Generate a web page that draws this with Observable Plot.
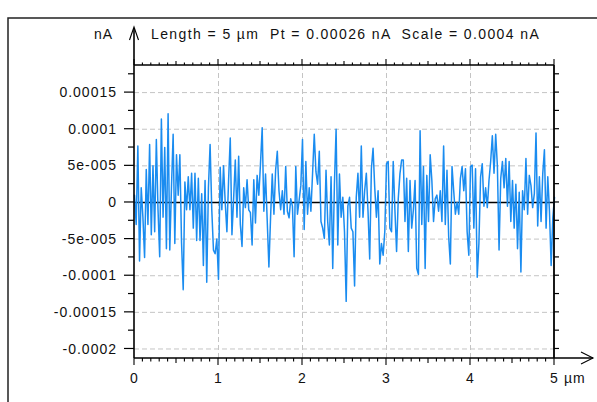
<!DOCTYPE html>
<html><head><meta charset="utf-8">
<script src="https://cdn.jsdelivr.net/npm/d3@7"></script>
<script src="https://cdn.jsdelivr.net/npm/@observablehq/plot@0.6"></script>
<style>
html,body{margin:0;padding:0;background:#fff;}
svg text{font-family:"Liberation Sans",Arial,sans-serif;}
</style></head><body><div id="chart"></div>
<script>
// Current signal (units of 1e-5 nA), sampled every 0.02 µm from 0 to 5 µm
const signal_1e5 = [
 1,-3,7.7,-8,2,-2,-7.5,4.5,-3,7.9,-4.4,5,-4,8.6,-1,-7.4,11.4,-2,7.5,-6.3,
 12.1,-6.5,2,9.3,-5.6,6.5,1,6.5,-5.5,-11.9,2.8,-1,3.5,-1,4,-3.5,4,-5.2,3.3,-5.2,
 1.2,-8.6,3,-10.9,2,7.9,-1,-6.5,-7,-5,-10.5,4.8,-1,5,0,-4,3,8.8,-4.4,0.5,
 5.8,-2,6.3,-3,-6,2,-0.7,3.1,-1,-1.4,-5.8,3.1,-2.8,3.7,1,5.3,10.2,-1.2,3.9,-2.5,
 -8.8,-2,3.9,-1.6,4.4,7,1.6,-1,1.6,-1.6,4.9,-1.2,-2.1,0.5,-0.5,-7.4,4.9,-1.6,0.3,2.3,
 8.6,-3.7,5.6,-1.6,2,-1.2,4,9.3,4.2,2.5,7,-2.6,-3.5,-4.9,4.4,-2.6,-5.8,3.5,-9,2.5,
 10,-5.8,3.9,-2,0.7,-4,-13.5,-0.5,0.7,-3.5,-4,-11.4,0.7,4,-2,7.7,-2,1.6,4,-1.2,
 -7.7,4.6,7.4,2,-2,1.6,-8.4,-5.6,-7.2,-3.9,5.3,5.6,-3.5,-4,5.6,-1,-6.7,0.5,3.9,5.8,
 5.8,-2.6,3.3,-6.7,3,-3.5,-1,3,-9,-9.8,9.8,-3,4.9,-9,3.7,-2.6,6.5,3,-2.6,0.5,
 1,-1.2,1.6,-2.6,7.7,-3,4.4,-4.6,-8.4,4.9,1.6,-1.6,0,-1.6,3.3,4.9,1.6,4.6,-4,-7.2,
 4.9,5.1,-3.5,4.6,-10.2,-5.6,3.5,5.3,-0.5,2,-0.7,3,5.6,9.1,4,9.3,5,-6.5,3.3,5.6,
 2,6,-0.5,5.6,-2.6,3,-3.5,2.5,-6.3,1.4,-9.5,1.6,-1,6,-1.6,3.7,2.3,-0.7,1.2,9.5,
 -3.2,3.5,-2.6,3.9,7.2,-3.5,3.5,-1.2,-8.6,-2.1,0.7
];
const sampleStep = 0.02; // µm
const yTickValues = [0.00015, 0.0001, 0.00005, 0, -0.00005, -0.0001, -0.00015, -0.0002];
const yTickLabels = ["0.00015", "0.0001", "5e-005", "0", "-5e-005", "-0.0001", "-0.00015", "-0.0002"];
const yGridValues = [0.00015, 0.0001, 0.00005, -0.00005, -0.0001, -0.00015, -0.0002];
const yMinorTicks = d3.range(-8, 8).map(k => k * 0.000025);
const xTickValues = [0, 1, 2, 3, 4, 5];
const xTickLabels = ["0", "1", "2", "3", "4", "5"];
const xGridValues = [1, 2, 3, 4];
const xMinorTicks = d3.range(0, 51).map(k => k / 10);
const xUnit = "µm";
const yUnit = "nA";
const titleText = "Length = 5 µm  Pt = 0.00026 nA  Scale = 0.0004 nA";

const data = signal_1e5.map((v, i) => ({x: i * sampleStep, y: v * 1e-5}));

const plot = Plot.plot({
  width: 597,
  height: 402,
  marginLeft: 134,
  marginRight: 43,
  marginTop: 65,
  marginBottom: 44,
  x: {domain: [0, 5], axis: null},
  y: {domain: [-0.000213, 0.000187], axis: null},
  style: {background: "white", overflow: "visible"},
  marks: [
    Plot.ruleY(yGridValues, {stroke: "#c4c4c4", strokeWidth: 1, strokeDasharray: "5,3"}),
    Plot.ruleX(xGridValues, {stroke: "#c4c4c4", strokeWidth: 1, strokeDasharray: "5,3"}),
    Plot.ruleY([0], {stroke: "#000", strokeWidth: 1.4}),
    Plot.line(data, {x: "x", y: "y", stroke: "#1a8cf0", strokeWidth: 1.5})
  ]
});
document.getElementById("chart").appendChild(plot);

const sx = plot.scale("x"), sy = plot.scale("y");
const X = v => sx.apply(v), Y = v => sy.apply(v);
const svg = d3.select(plot);
const g = svg.append("g").attr("stroke", "#000").attr("fill", "none");
const x0 = X(0), x5 = X(5), yTop = Y(0.000187), yBot = Y(-0.000213);

// outer frame (left and top edges)
g.append("path").attr("d", `M8,402V18H600`).attr("stroke", "#222").attr("stroke-width", 1.5);

// axes box
g.append("line").attr("x1", x0).attr("x2", x0).attr("y1", yBot).attr("y2", 28).attr("stroke-width", 1.6);
g.append("line").attr("x1", x0).attr("x2", 593).attr("y1", yBot).attr("y2", yBot).attr("stroke-width", 1.6);
g.append("line").attr("x1", x0).attr("x2", x5).attr("y1", yTop).attr("y2", yTop).attr("stroke-width", 1.4);
g.append("line").attr("x1", x5).attr("x2", x5).attr("y1", yTop).attr("y2", yBot).attr("stroke-width", 1.8);
// arrowheads
g.append("path").attr("d", `M${x0-4.5},40L${x0},27L${x0+4.5},40`).attr("stroke-width", 1.1);
g.append("path").attr("d", `M581,352L593,${yBot}L581,364`).attr("stroke-width", 1.1);

// y ticks
yMinorTicks.forEach(v => {
  const major = yTickValues.some(t => Math.abs(t - v) < 1e-9);
  g.append("line").attr("x1", x0 - (major ? 10 : 6)).attr("x2", x0).attr("y1", Y(v)).attr("y2", Y(v)).attr("stroke-width", 1.2);
  g.append("line").attr("x1", x5).attr("x2", x5 + 5).attr("y1", Y(v)).attr("y2", Y(v)).attr("stroke-width", 1.2);
});
// x ticks
xMinorTicks.forEach(v => {
  const k = Math.round(v * 10);
  const len = k % 10 === 0 ? 7 : (k % 5 === 0 ? 5 : 3.5);
  g.append("line").attr("x1", X(v)).attr("x2", X(v)).attr("y1", yBot).attr("y2", yBot + len).attr("stroke-width", 1.1);
  g.append("line").attr("x1", X(v)).attr("x2", X(v)).attr("y1", yTop).attr("y2", yTop - (len - 1)).attr("stroke-width", 1.1);
});

const t = svg.append("g").attr("fill", "#111").attr("font-size", 14).attr("text-anchor", "start").style("letter-spacing", "1px");
yTickValues.forEach((v, i) => {
  t.append("text").attr("x", 117).attr("y", Y(v)).attr("dy", "0.36em").attr("text-anchor", "end").text(yTickLabels[i]);
});
xTickValues.forEach((v, i) => {
  t.append("text").attr("x", X(v) + 0.5).attr("y", 383).attr("text-anchor", "middle").text(xTickLabels[i]);
});
t.append("text").attr("x", X(5) + 10).attr("y", 383).attr("text-anchor", "start").text(xUnit);
t.append("text").attr("x", 113).attr("y", 39).attr("text-anchor", "end").text(yUnit);
t.append("text").attr("x", 151).attr("y", 39).attr("text-anchor", "start").attr("xml:space", "preserve").style("white-space", "pre").style("letter-spacing", "1.4px").text(titleText);
</script>
</body></html>
